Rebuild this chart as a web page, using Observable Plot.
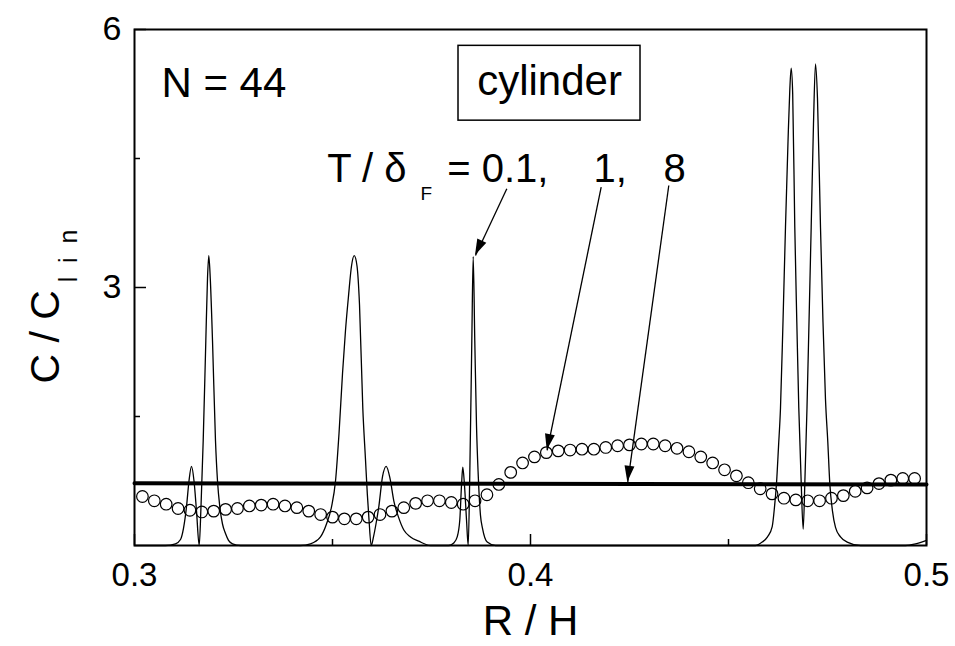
<!DOCTYPE html>
<html>
<head>
<meta charset="utf-8">
<script src="https://cdn.jsdelivr.net/npm/d3@7"></script>
<script src="https://cdn.jsdelivr.net/npm/@observablehq/plot@0.6"></script>
<style>
  html, body { margin: 0; padding: 0; background: #fff; }
  #chart { width: 955px; height: 646px; }
</style>
</head>
<body>
<div id="chart"></div>
<script>
// T / δF = 0.1 : sharp resonance curve (R/H, C/Clin)
const thinR = [0.3, 0.30783, 0.31035, 0.31162, 0.31237, 0.31313, 0.31376, 0.31439, 0.31503, 0.31566,
  0.31634, 0.31679, 0.31735, 0.31801, 0.31843, 0.31876, 0.31914, 0.31970, 0.32045, 0.32096,
  0.32154, 0.32222, 0.32298, 0.32374, 0.32475, 0.32677, 0.34192, 0.34444, 0.34697, 0.34848,
  0.34975, 0.35076, 0.35164, 0.35253, 0.35328, 0.35404, 0.35480, 0.35548, 0.35619, 0.35682,
  0.35765, 0.35833, 0.35879, 0.35922, 0.35977, 0.36035, 0.36098, 0.36169, 0.36263, 0.36356,
  0.36452, 0.36548, 0.36667, 0.36801, 0.36970, 0.37179, 0.37475, 0.37929, 0.38063, 0.38149,
  0.38215, 0.38258, 0.38290, 0.38333, 0.38384, 0.38427, 0.38467, 0.38518, 0.38553, 0.38593,
  0.38636, 0.38679, 0.38737, 0.38788, 0.38907, 0.39116, 0.45682, 0.45851, 0.45985, 0.46104,
  0.46162, 0.46212, 0.46263, 0.46313, 0.46376, 0.46439, 0.46503, 0.46548, 0.46583, 0.46621,
  0.46674, 0.46725, 0.46775, 0.46831, 0.46886, 0.46932, 0.46982, 0.47033, 0.47088, 0.47146,
  0.47197, 0.47247, 0.47323, 0.47386, 0.47449, 0.47508, 0.47558, 0.47626, 0.47702, 0.47828,
  0.47997, 0.48333, 0.49470, 0.49722, 0.5];
const thinC = [0, 0, 0.02, 0.07, 0.2, 0.45, 0.75, 0.92, 0.75, 0.4,
  0.0, 0.45, 1.22, 2.38, 3.1, 3.37, 3.1, 2.38, 1.22, 0.75,
  0.45, 0.25, 0.14, 0.06, 0.02, 0, 0, 0.02, 0.1, 0.25,
  0.45, 0.75, 1.3, 2.0, 2.5, 2.9, 3.25, 3.37, 3.25, 2.8,
  1.6, 1.0, 0.6, 0.3, 0.0, 0.1, 0.25, 0.45, 0.8, 0.92,
  0.78, 0.52, 0.33, 0.18, 0.1, 0.05, 0, 0, 0.03, 0.1,
  0.3, 0.7, 0.91, 0.7, 0.3, 0.0, 0.83, 2.38, 3.36, 2.38,
  1.4, 0.83, 0.35, 0.2, 0.04, 0, 0, 0.04, 0.1, 0.22,
  0.45, 0.72, 1.15, 1.6, 2.6, 3.7, 4.7, 5.3, 5.55, 5.25,
  3.7, 2.6, 1.6, 0.8, 0.19, 0.8, 1.6, 2.6, 3.7, 4.9,
  5.6, 5.2, 3.7, 2.6, 1.7, 1.2, 0.72, 0.4, 0.21, 0.1,
  0.04, 0, 0, 0.02, 0.06];

// T / δF = 1 : sampled points (open circles)
const dotR = [0.302, 0.305, 0.308, 0.311, 0.314, 0.317, 0.320, 0.323, 0.326, 0.329, 0.332, 0.335, 0.338, 0.341, 0.344, 0.347,
  0.350, 0.353, 0.356, 0.359, 0.362, 0.365, 0.368, 0.371, 0.374, 0.377, 0.380, 0.383, 0.386, 0.389, 0.392, 0.395, 0.398,
  0.401, 0.404, 0.407, 0.410, 0.413, 0.416, 0.419, 0.422, 0.425, 0.428, 0.431, 0.434, 0.437, 0.440, 0.443, 0.446, 0.449,
  0.452, 0.455, 0.458, 0.461, 0.464, 0.467, 0.470, 0.473, 0.476, 0.479, 0.482, 0.485, 0.488, 0.491, 0.494, 0.497];
const dotC = [0.57, 0.52, 0.48, 0.43, 0.41, 0.39, 0.40, 0.42, 0.43, 0.46, 0.47, 0.48, 0.46, 0.44, 0.40, 0.36,
  0.33, 0.31, 0.31, 0.33, 0.36, 0.40, 0.44, 0.49, 0.52, 0.52, 0.50, 0.48, 0.52, 0.59, 0.71, 0.85, 0.96,
  1.03, 1.08, 1.10, 1.11, 1.12, 1.12, 1.14, 1.16, 1.17, 1.18, 1.18, 1.16, 1.13, 1.09, 1.03, 0.96, 0.88,
  0.81, 0.73, 0.66, 0.60, 0.55, 0.53, 0.52, 0.52, 0.55, 0.58, 0.63, 0.67, 0.72, 0.76, 0.78, 0.78];

// T / δF = 8 : almost flat
const flatR = [0.3, 0.5];
const flatC = [0.724, 0.710];

// axis ticks
const xTicks = [0.3, 0.4, 0.5];
const xMinor = [0.35, 0.45];
const yTicks = [3, 6];
const yMinor = [1.5, 4.5];

// arrows from the T/δF label to each curve: start (R, C) -> tip (R, C)
const arrowR1 = [0.39402, 0.41785, 0.43492];
const arrowC1 = [4.148, 4.166, 4.186];
const arrowR2 = [0.38611, 0.40422, 0.42457];
const arrowC2 = [3.372, 1.105, 0.736];

const thin = thinR.map((r, i) => ({r, c: thinC[i]}));
const dots = dotR.map((r, i) => ({r, c: dotC[i]}));
const flat = flatR.map((r, i) => ({r, c: flatC[i]}));
const arrows = arrowR1.map((r, i) => ({r1: r, c1: arrowC1[i], r2: arrowR2[i], c2: arrowC2[i]}));

const FONT = "'Liberation Sans', Arial, Helvetica, sans-serif";
const frameW = 955 - 134 - 29;
const frameH = 646 - 29 - 101;

const plot = Plot.plot({
  width: 955,
  height: 646,
  marginLeft: 134,
  marginRight: 29,
  marginTop: 29,
  marginBottom: 101,
  x: {domain: [0.3, 0.5]},
  y: {domain: [0, 6]},
  style: {fontFamily: FONT, background: "white", color: "black", overflow: "visible"},
  marks: [
    // curves
    Plot.line(thin, {x: "r", y: "c", stroke: "black", strokeWidth: 1.3, curve: "monotone-x"}),
    Plot.dot(dots, {x: "r", y: "c", r: 5.8, stroke: "black", strokeWidth: 1.2, fill: "none"}),
    Plot.line(flat, {x: "r", y: "c", stroke: "black", strokeWidth: 4}),

    // inward ticks
    Plot.tickX(xTicks, {x: d => d, insetTop: frameH - 11, stroke: "black", strokeWidth: 1.5}),
    Plot.tickX(xMinor, {x: d => d, insetTop: frameH - 6, stroke: "black", strokeWidth: 1.5}),
    Plot.tickY(yTicks, {y: d => d, insetRight: frameW - 12, stroke: "black", strokeWidth: 1.5}),
    Plot.tickY(yMinor, {y: d => d, insetRight: frameW - 6, stroke: "black", strokeWidth: 1.5}),
    Plot.frame({stroke: "black", strokeWidth: 2}),

    // tick labels
    Plot.axisX(xTicks, {tickSize: 0, tickPadding: 17, fontSize: 33, tickFormat: d3.format(".1f"), label: null}),
    Plot.axisY(yTicks, {tickSize: 0, tickPadding: 13, fontSize: 34, tickFormat: d => String(d), label: null}),

    // axis titles
    Plot.text(["R / H"], {frameAnchor: "bottom", dy: 60, lineAnchor: "top", fontSize: 42, fill: "black"}),
    Plot.text(["C / C"], {frameAnchor: "left", y: [1.884], dx: -89, rotate: -90, textAnchor: "start", fontSize: 41, fill: "black"}),
    Plot.text(["l\u00a0\u00a0i\u00a0\u00a0n"], {frameAnchor: "left", y: [3.06], dx: -66, rotate: -90, textAnchor: "start", fontSize: 25, fill: "black"}),

    // annotations
    Plot.text(["N = 44"], {x: [0.3068], y: [5.372], textAnchor: "start", fontSize: 42, fill: "black"}),
    Plot.rect([0], {x1: 0.38182, x2: 0.42778, y1: 4.94, y2: 5.81, fill: "none", stroke: "black", strokeWidth: 1.5}),
    Plot.text(["cylinder"], {x: [0.4048], y: [5.39], fontSize: 42, fill: "black"}),
    Plot.text(["T / δ"], {x: [0.34866], y: [4.372], textAnchor: "start", fontSize: 40, fill: "black"}),
    Plot.text(["F"], {x: [0.37222], y: [4.09], textAnchor: "start", fontSize: 19, fill: "black"}),
    Plot.text(["= 0.1,"], {x: [0.37896], y: [4.372], textAnchor: "start", fontSize: 40, fill: "black"}),
    Plot.text(["1,"], {x: [0.41591], y: [4.372], textAnchor: "start", fontSize: 40, fill: "black"}),
    Plot.text(["8"], {x: [0.43359], y: [4.372], textAnchor: "start", fontSize: 40, fill: "black"}),

    // arrow shafts
    Plot.link(arrows, {x1: "r1", y1: "c1", x2: "r2", y2: "c2", stroke: "black", strokeWidth: 1.3})
  ]
});

// filled arrow heads, placed through the plot's own scales
const sx = plot.scale("x"), sy = plot.scale("y");
d3.select(plot).append("g")
  .selectAll("path")
  .data(arrows)
  .join("path")
  .attr("fill", "black")
  .attr("d", a => {
    const x1 = sx.apply(a.r1), y1 = sy.apply(a.c1);
    const x2 = sx.apply(a.r2), y2 = sy.apply(a.c2);
    const len = Math.hypot(x2 - x1, y2 - y1);
    const ux = (x2 - x1) / len, uy = (y2 - y1) / len;
    const L = 16, W = 5;
    const bx = x2 - ux * L, by = y2 - uy * L;
    return `M${x2},${y2}L${bx - uy * W},${by + ux * W}L${bx + uy * W},${by - ux * W}Z`;
  });

document.getElementById("chart").appendChild(plot);
</script>
</body>
</html>
